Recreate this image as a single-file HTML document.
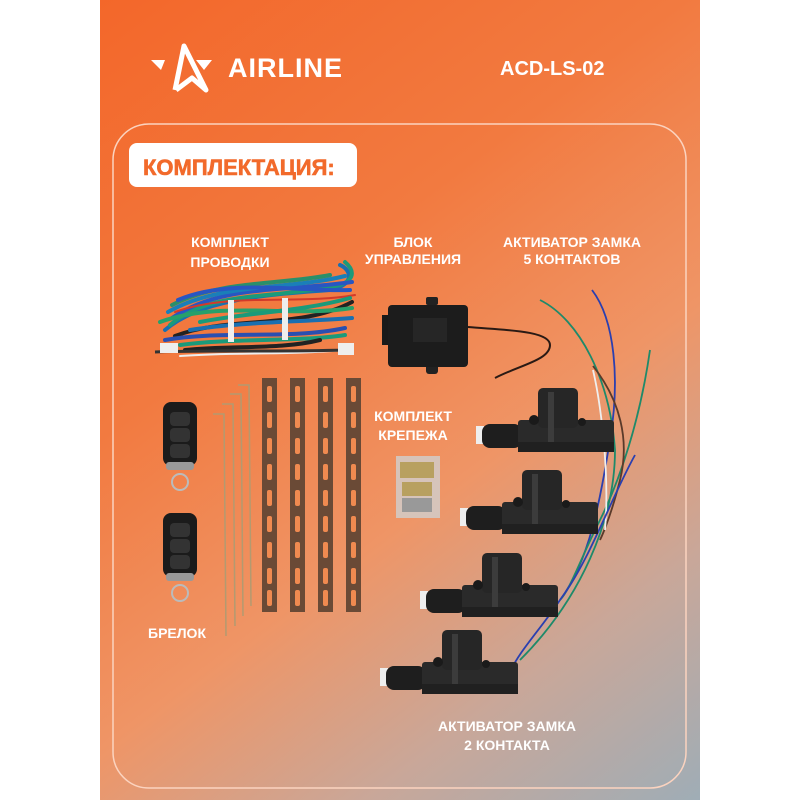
<!DOCTYPE html>
<html><head><meta charset="utf-8"><style>
html,body{margin:0;padding:0;background:#fff;}
svg{display:block;}
text{font-family:"Liberation Sans",sans-serif;font-weight:bold;}
</style></head><body>
<svg width="800" height="800" viewBox="0 0 800 800" xmlns="http://www.w3.org/2000/svg">
<defs>
<linearGradient id="bg" x1="100" y1="0" x2="700" y2="800" gradientUnits="userSpaceOnUse">
<stop offset="0" stop-color="#f3672a"/>
<stop offset="0.35" stop-color="#f27a40"/>
<stop offset="0.6" stop-color="#ef9566"/>
<stop offset="0.8" stop-color="#c9a799"/>
<stop offset="1" stop-color="#9fadb6"/>
</linearGradient>
<g id="act">
<rect x="0" y="38" width="8" height="18" fill="#eee"/>
<rect x="6" y="36" width="40" height="24" rx="8" fill="#1e1e1e"/>
<rect x="42" y="32" width="96" height="32" rx="3" fill="#2a2a2a"/>
<rect x="62" y="0" width="40" height="40" rx="5" fill="#262626"/>
<rect x="72" y="4" width="6" height="50" fill="#3c3c3c"/>
<circle cx="58" cy="32" r="5" fill="#1a1a1a"/>
<circle cx="106" cy="34" r="4" fill="#1a1a1a"/>
<rect x="42" y="54" width="96" height="10" fill="#202020"/>
</g>
<g id="strap">
<rect x="0" y="0" width="15" height="234" fill="#6a4a36"/>
<g fill="#f08a50">
<rect x="5" y="8" width="5" height="16" rx="2"/><rect x="5" y="34" width="5" height="16" rx="2"/>
<rect x="5" y="60" width="5" height="16" rx="2"/><rect x="5" y="86" width="5" height="16" rx="2"/>
<rect x="5" y="112" width="5" height="16" rx="2"/><rect x="5" y="138" width="5" height="16" rx="2"/>
<rect x="5" y="164" width="5" height="16" rx="2"/><rect x="5" y="190" width="5" height="16" rx="2"/>
<rect x="5" y="212" width="5" height="16" rx="2"/>
</g>
</g>
<g id="fob">
<rect x="0" y="0" width="34" height="64" rx="8" fill="#1b1b1b"/>
<rect x="7" y="10" width="20" height="14" rx="4" fill="#333"/>
<rect x="7" y="26" width="20" height="14" rx="4" fill="#333"/>
<rect x="7" y="42" width="20" height="14" rx="4" fill="#333"/>
<rect x="3" y="60" width="28" height="8" rx="3" fill="#999"/>
<circle cx="17" cy="80" r="8" fill="none" stroke="#bbb" stroke-width="2"/>
</g>
</defs>
<rect x="100" y="0" width="600" height="800" fill="url(#bg)"/>
<!-- logo -->
<g fill="none" stroke="#fff" stroke-width="5" stroke-linejoin="round">
<polyline points="175,90 184,46 206,90 192,78 176,90"/>
</g>
<polygon points="151,60 165,60 161,70" fill="#fff"/>
<polygon points="196,60 212,60 204,70" fill="#fff"/>
<text x="228" y="77" font-size="27" fill="#fff" letter-spacing="1">AIRLINE</text>
<text x="500" y="75" font-size="20" fill="#fff">ACD-LS-02</text>
<!-- frame -->
<rect x="113" y="124" width="573" height="664" rx="36" fill="none" stroke="#fbd3bf" stroke-width="1.5"/>
<rect x="129" y="143" width="228" height="44" rx="8" fill="#fff"/>
<text x="143" y="175" font-size="22" fill="#f26a2b" stroke="#f26a2b" stroke-width="0.6">КОМПЛЕКТАЦИЯ:</text>
<!-- labels -->
<g font-size="14" fill="#fff" text-anchor="middle">
<text x="230" y="247">КОМПЛЕКТ</text><text x="230" y="267">ПРОВОДКИ</text>
<text x="413" y="247">БЛОК</text><text x="413" y="264">УПРАВЛЕНИЯ</text>
<text x="572" y="247">АКТИВАТОР ЗАМКА</text><text x="572" y="264">5 КОНТАКТОВ</text>
<text x="413" y="421">КОМПЛЕКТ</text><text x="413" y="440">КРЕПЕЖА</text>
<text x="177" y="638">БРЕЛОК</text>
<text x="507" y="731">АКТИВАТОР ЗАМКА</text><text x="507" y="750">2 КОНТАКТА</text>
</g>
<!-- wiring bundle -->
<g fill="none" stroke-width="4" stroke-linecap="round">
<path d="M165,330 C200,300 260,295 330,290 C355,285 352,270 340,265" stroke="#1a6fb0"/>
<path d="M170,325 C210,290 270,300 340,285 C358,278 352,268 345,262" stroke="#1b9a7a"/>
<path d="M172,318 C220,285 280,292 352,282" stroke="#2856c2"/>
<path d="M175,336 C230,315 300,330 352,302" stroke="#222"/>
<path d="M160,322 C220,300 290,318 352,308" stroke="#27a06a"/>
<path d="M168,312 C220,282 290,290 345,276" stroke="#1a7fb8"/>
<path d="M175,312 C230,292 300,305 355,295" stroke="#d23a2a" stroke-width="2"/>
<path d="M165,340 C220,330 290,340 345,328" stroke="#2a4fb0"/>
<path d="M172,305 C220,280 280,285 330,275" stroke="#2a8f6a"/>
<path d="M180,345 C230,338 300,342 345,335" stroke="#1b9a7a"/>
<path d="M185,350 C230,345 280,350 320,340" stroke="#222"/>
<path d="M178,300 C230,278 300,292 350,290" stroke="#2856c2"/>
<path d="M190,330 C240,322 300,322 352,318" stroke="#1a6fb0"/>
<path d="M200,322 C250,312 300,312 350,298" stroke="#1b9a7a"/>
<path d="M180,356 C230,352 290,355 345,350" stroke="#eee" stroke-width="2"/>
</g>
<path d="M155,352 C200,350 280,352 345,350" fill="none" stroke="#333" stroke-width="3"/>
<rect x="228" y="300" width="6" height="42" fill="#eee"/>
<rect x="282" y="298" width="6" height="42" fill="#eee"/>
<rect x="160" y="343" width="18" height="10" fill="#eee"/>
<rect x="338" y="343" width="16" height="12" fill="#eee"/>
<!-- control box -->
<rect x="426" y="297" width="12" height="8" rx="2" fill="#222"/>
<rect x="426" y="364" width="12" height="10" rx="3" fill="#222"/>
<rect x="382" y="315" width="10" height="30" fill="#1a1a1a"/>
<rect x="388" y="305" width="80" height="62" rx="4" fill="#1c1c1c"/>
<rect x="413" y="318" width="34" height="24" fill="#262626"/>
<path d="M468,327 C500,330 550,330 550,345 C550,360 520,365 495,378" fill="none" stroke="#2a1a14" stroke-width="2"/>
<!-- rods -->
<g fill="none" stroke="#b39a70" stroke-width="1.5">
<polyline points="213,414 224,414 226,636"/>
<polyline points="222,404 233,404 235,626"/>
<polyline points="230,394 241,394 243,616"/>
<polyline points="238,385 249,385 251,606"/>
</g>
<!-- straps -->
<use href="#strap" x="262" y="378"/>
<use href="#strap" x="290" y="378"/>
<use href="#strap" x="318" y="378"/>
<use href="#strap" x="346" y="378"/>
<!-- fobs -->
<use href="#fob" x="163" y="402"/>
<use href="#fob" x="163" y="513"/>
<!-- fasteners -->
<rect x="396" y="456" width="44" height="62" fill="#cfcfcf" opacity="0.8"/>
<g fill="#b8a060"><rect x="400" y="462" width="34" height="16"/><rect x="402" y="482" width="30" height="14"/></g>
<g fill="#999"><rect x="402" y="498" width="30" height="14"/></g>
<!-- actuator wires -->
<g fill="none" stroke-width="1.8">
<path d="M592,290 C615,320 620,380 610,440 C600,500 590,560 560,600 C540,630 520,650 510,672" stroke="#2a3fb0"/>
<path d="M540,300 C580,320 610,380 615,450 C615,520 580,600 520,660" stroke="#1e8a6a"/>
<path d="M650,350 C640,420 620,480 600,520 C580,560 570,590 560,600" stroke="#1e8a6a"/>
<path d="M593,366 C620,400 630,440 620,480 C610,520 600,540 600,540" stroke="#5a3a2a"/>
<path d="M593,370 C600,400 610,470 605,530" stroke="#eee"/>
<path d="M635,455 C610,500 590,560 560,600" stroke="#2a3fb0"/>
</g>
<use href="#act" x="476" y="388"/>
<use href="#act" x="460" y="470"/>
<use href="#act" x="420" y="553"/>
<use href="#act" x="380" y="630"/>
</svg>
</body></html>
